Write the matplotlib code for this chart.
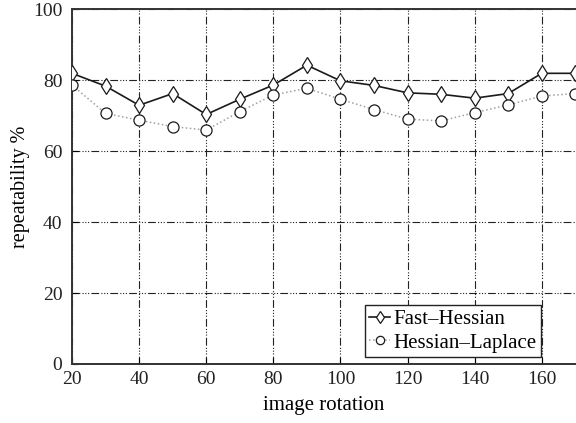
import matplotlib
matplotlib.use("Agg")
import matplotlib.pyplot as plt

# image rotation angles
rotation = [20, 30, 40, 50, 60, 70, 80, 90, 100, 110, 120, 130, 140, 150, 160, 170]

# repeatability %
fast_hessian = [81.9, 78.3, 72.9, 76.2, 70.3, 74.6, 78.6, 84.2, 79.8, 78.5,
                76.4, 76.0, 74.9, 76.2, 81.9, 81.9]
hessian_laplace = [78.6, 70.6, 68.7, 66.9, 65.9, 71.1, 75.8, 77.7, 74.6, 71.7,
                   69.0, 68.5, 70.8, 73.0, 75.5, 76.2]

xticks = [20, 40, 60, 80, 100, 120, 140, 160]
yticks = [0, 20, 40, 60, 80, 100]

plt.rcParams['font.family'] = ['Liberation Serif', 'DejaVu Serif']

fig = plt.figure(figsize=(5.76, 4.23), dpi=100)
# the original plot runs off the right edge of the picture
ax = fig.add_axes([0.125, 0.1395, 0.932, 0.839])

ax.plot(rotation, fast_hessian, color='#1a1a1a', lw=1.2, marker='d',
        markersize=8, markerfacecolor='white', markeredgecolor='#1a1a1a',
        markeredgewidth=0.9, label='Fast\u2013Hessian', zorder=3)
ax.plot(rotation, hessian_laplace, color='#a0a0a0', lw=1.1, ls=':',
        marker='o', markersize=8, markerfacecolor='white',
        markeredgecolor='#1a1a1a', markeredgewidth=0.9,
        label='Hessian\u2013Laplace', zorder=3)

ax.set_xlim(20, 180)
ax.set_ylim(0, 100)
ax.set_xticks(xticks + [180])
ax.set_xticklabels([str(t) for t in xticks] + [''])
ax.set_yticks(yticks)
# dash - dot dot dot grid like the original
ax.grid(True, color='#222222', lw=0.8, ls=(0, (7, 2, 1, 1.5, 1, 1.5, 1, 2)))
ax.tick_params(direction='in', length=4, width=0.8, labelsize=14,
               labelcolor='#222222')
ax.tick_params(axis='y', pad=7)
ax.tick_params(axis='x', pad=5)
for s in ax.spines.values():
    s.set_linewidth(1.4)
    s.set_color('#333333')

ax.set_xlabel('image rotation', fontsize=15)
ax.set_ylabel('repeatability %', fontsize=14.5)
ax.xaxis.set_label_coords(0.469, -0.09)
ax.yaxis.set_label_coords(-0.078, 0.5)

leg = ax.legend(loc='lower right', bbox_to_anchor=(0.873, 0.02),
                fancybox=False, framealpha=1, edgecolor='#222222',
                handlelength=1.0, handletextpad=0.15, borderpad=0.2,
                labelspacing=0.2, borderaxespad=0, fontsize=15,
                markerscale=0.75)
leg.get_frame().set_linewidth(1.0)

fig.savefig('out.png', dpi=100)
